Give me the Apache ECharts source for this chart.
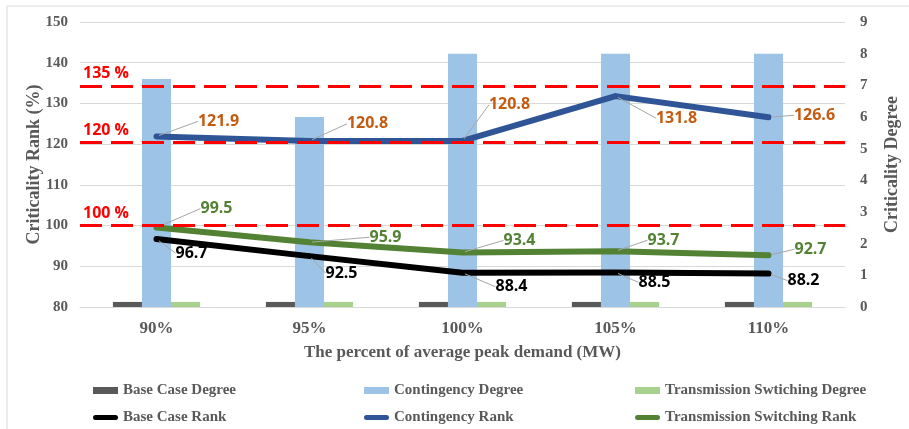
<!DOCTYPE html>
<html>
<head>
<meta charset="utf-8">
<script src="https://cdn.jsdelivr.net/npm/echarts@6/dist/echarts.min.js"></script>
<style>
  html, body { margin: 0; padding: 0; background: #fff; }
  #chart { width: 909px; height: 429px; }
</style>
</head>
<body>
<div id="chart"></div>
<script>
// data
const categories = ['90%', '95%', '100%', '105%', '110%'];
const baseCaseDegree = [0.16, 0.16, 0.16, 0.16, 0.16];
const contingencyDegree = [7.2, 6.0, 8.0, 8.0, 8.0];
const switchingDegree = [0.16, 0.16, 0.16, 0.16, 0.16];
const baseCaseRank = [96.7, 92.5, 88.4, 88.5, 88.2];
const contingencyRank = [121.9, 120.8, 120.8, 131.8, 126.6];
const switchingRank = [99.5, 95.9, 93.4, 93.7, 92.7];
const thresholdValues = [134.3, 120.4, 100];
const thresholdLabels = ['135 %', '120 %', '100 %'];
const rankTicks = [80, 150, 10];   // min, max, step
const degreeTicks = [0, 9, 1];

// where each value label sits relative to its point (px)
const contingencyOffsets = [[62, -15], [58, -17], [47, -36], [61, 22], [46, -2]];
const switchingOffsets = [[60, -19], [76, -5], [57, -12], [48, -11], [42, -6]];
const baseOffsets = [[35, 14], [32, 17], [49, 14], [39, 10], [35, 7]];

const serif = 'Liberation Serif';
const gray = '#595959';
const capsule = 'path://M3,0 H27 A3,3 0 0 1 27,6 H3 A3,3 0 0 1 3,0 Z';

function shift(offsets) {
  return function (p) {
    return { dx: offsets[p.dataIndex][0], dy: offsets[p.dataIndex][1] };
  };
}

function rankLine(name, data, color, labelColor, offsets, extra) {
  return Object.assign({
    name: name,
    type: 'line',
    yAxisIndex: 0,
    data: data,
    symbol: 'circle',
    symbolSize: 5,
    itemStyle: { color: color },
    lineStyle: { color: color, width: 6, cap: 'round', join: 'round' },
    label: {
      show: true,
      position: 'inside',
      color: labelColor,
      fontFamily: 'Open Sans',
      fontWeight: 'bold',
      fontSize: 16
    },
    labelLine: { show: true, lineStyle: { color: '#A6A6A6', width: 1 } },
    labelLayout: shift(offsets),
    emphasis: { disabled: true },
    z: 3
  }, extra || {});
}

const legendCols = [
  ['Base Case Degree', 'Base Case Rank'],
  ['Contingency Degree', 'Contingency Rank'],
  ['Transmission Swtiching Degree', 'Transmission Switching Rank']
];
const legendLeft = [93, 364, 635];

const option = {
  animation: false,
  backgroundColor: '#fff',
  grid: { left: 80, right: 49, top: 22, bottom: 122 },
  graphic: [{
    type: 'rect',
    shape: { x: 7, y: 6, width: 920, height: 440 },
    style: { fill: 'none', stroke: '#D9D9D9', lineWidth: 1 },
    silent: true
  }],
  legend: legendCols.map(function (names, i) {
    return {
      left: legendLeft[i],
      top: 383,
      padding: 0,
      orient: 'vertical',
      itemGap: 12,
      itemWidth: 25,
      itemHeight: 7,
      selectedMode: false,
      data: [{ name: names[0], icon: 'rect' }, { name: names[1], icon: capsule }],
      textStyle: { fontFamily: serif, fontWeight: 'bold', fontSize: 15, color: gray }
    };
  }),
  xAxis: {
    type: 'category',
    data: categories,
    axisTick: { show: false },
    axisLine: { lineStyle: { color: '#D9D9D9' } },
    axisLabel: { margin: 13, fontFamily: serif, fontWeight: 'bold', fontSize: 17, color: gray },
    name: 'The percent of average peak demand (MW)',
    nameLocation: 'middle',
    nameGap: 37,
    nameTextStyle: { fontFamily: serif, fontWeight: 'bold', fontSize: 17, color: gray }
  },
  yAxis: [{
    type: 'value',
    position: 'left',
    min: rankTicks[0], max: rankTicks[1], interval: rankTicks[2],
    axisLine: { show: false },
    axisTick: { show: false },
    splitLine: { lineStyle: { color: '#D9D9D9' } },
    axisLabel: { margin: 12, fontFamily: serif, fontWeight: 'bold', fontSize: 15, color: gray },
    name: 'Criticality Rank (%)',
    nameLocation: 'middle',
    nameGap: 37,
    nameMoveOverlap: false,
    nameTextStyle: { fontFamily: serif, fontWeight: 'bold', fontSize: 18, color: gray }
  }, {
    type: 'value',
    position: 'right',
    min: degreeTicks[0], max: degreeTicks[1], interval: degreeTicks[2],
    axisLine: { show: false },
    axisTick: { show: false },
    splitLine: { show: false },
    axisLabel: { margin: 15, fontFamily: serif, fontWeight: 'bold', fontSize: 15, color: gray },
    name: 'Criticality Degree',
    nameLocation: 'middle',
    nameGap: 38,
    nameMoveOverlap: false,
    nameTextStyle: { fontFamily: serif, fontWeight: 'bold', fontSize: 18, color: gray }
  }],
  series: [
    { name: 'Base Case Degree', type: 'bar', yAxisIndex: 1, data: baseCaseDegree,
      barGap: '0%', barCategoryGap: '43%', itemStyle: { color: '#595959' } },
    { name: 'Contingency Degree', type: 'bar', yAxisIndex: 1, data: contingencyDegree,
      itemStyle: { color: '#9DC3E6' } },
    { name: 'Transmission Swtiching Degree', type: 'bar', yAxisIndex: 1, data: switchingDegree,
      itemStyle: { color: '#A9D18E' } },
    rankLine('Base Case Rank', baseCaseRank, '#000000', '#000000', baseOffsets),
    rankLine('Contingency Rank', contingencyRank, '#2F5597', '#C55A11', contingencyOffsets),
    rankLine('Transmission Switching Rank', switchingRank, '#548235', '#548235', switchingOffsets, {
      markLine: {
        silent: true,
        symbol: 'none',
        z: 6,
        lineStyle: { color: '#FF0000', width: 3, type: [22, 9] },
        label: {
          position: 'insideStartTop',
          distance: [3, 4],
          color: '#FF0000',
          fontFamily: 'Open Sans',
          fontWeight: 'bold',
          fontSize: 16,
          formatter: function (p) { return thresholdLabels[p.dataIndex]; }
        },
        data: thresholdValues.map(function (v) { return { yAxis: v }; })
      }
    })
  ]
};

const chart = echarts.init(document.getElementById('chart'));
chart.setOption(option);
window.onresize = function () { chart.resize(); };
</script>
</body>
</html>
